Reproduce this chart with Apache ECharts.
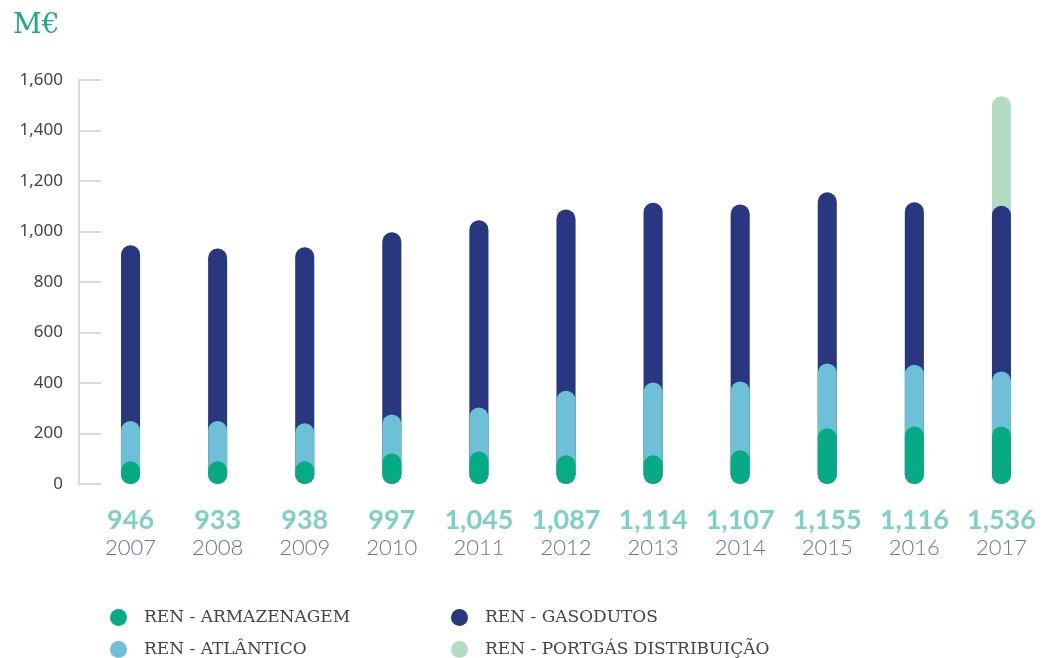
<!DOCTYPE html>
<html>
<head>
<meta charset="utf-8">
<script src="https://cdn.jsdelivr.net/npm/echarts@6/dist/echarts.min.js"></script>
<style>
  html, body { margin: 0; padding: 0; background: #fff; }
  #chart { width: 1058px; height: 658px; }
</style>
</head>
<body>
<div id="chart"></div>
<script>
// years and published totals (shown under the axis)
const years = ['2007', '2008', '2009', '2010', '2011', '2012', '2013', '2014', '2015', '2016', '2017'];
const totals = [946, 933, 938, 997, 1045, 1087, 1114, 1107, 1155, 1116, 1536];

// segment values per company (M€)
const armazenagem = [90, 90, 90, 121, 129, 114, 114, 134, 221, 228, 228];
const atlantico = [160, 160, 151, 154, 174, 255, 288, 272, 256, 244, 218];
const gasodutos = [696, 683, 697, 722, 742, 718, 712, 701, 678, 644, 656];
const portgas = [0, 0, 0, 0, 0, 0, 0, 0, 0, 0, 434];

const yTicks = [0, 200, 400, 600, 800, 1000, 1200, 1400, 1600];

const names = {
  arm: 'REN - ARMAZENAGEM',
  atl: 'REN - ATLÂNTICO',
  gas: 'REN - GASODUTOS',
  pg: 'REN - PORTGÁS DISTRIBUIÇÃO'
};
const colors = { arm: '#06aa85', atl: '#6ebfd8', gas: '#283780', pg: '#b3dcc3' };

// each pill runs from 0 to the running sum, pills overlap
function cumulate(...parts) {
  return years.map((_, i) => parts.reduce((s, p) => s + p[i], 0));
}
const cumArm = cumulate(armazenagem);
const cumAtl = cumulate(armazenagem, atlantico);
const cumGas = cumulate(armazenagem, atlantico, gasodutos);
const cumPg = cumulate(armazenagem, atlantico, gasodutos, portgas);

const chart = echarts.init(document.getElementById('chart'));

function pill(key, data) {
  return {
    name: names[key],
    type: 'bar',
    data: data,
    barWidth: 19,
    barGap: '-100%',
    itemStyle: { color: colors[key], borderRadius: 9.5 },
    emphasis: { disabled: true }
  };
}

// one legend per entry so the two columns line up
function legendItem(key, left, top) {
  return {
    left: left,
    top: top,
    icon: 'circle',
    itemWidth: 17,
    itemHeight: 17,
    selectedMode: false,
    data: [names[key]],
    textStyle: {
      fontFamily: 'DejaVu Serif, serif',
      fontSize: 17,
      color: '#444',
      padding: [0, 0, 0, 12]
    }
  };
}

const option = {
  animation: false,
  title: {
    text: 'M€',
    left: 8,
    top: 7,
    textStyle: { fontFamily: 'DejaVu Serif, serif', fontSize: 28, fontWeight: 'normal', color: '#1aa98a' }
  },
  legend: [
    legendItem('arm', 105, 604),
    legendItem('atl', 105, 636),
    legendItem('gas', 446, 604),
    legendItem('pg', 446, 636)
  ],
  grid: { left: 87, right: 13, top: 80, bottom: 174, containLabel: false },
  xAxis: {
    type: 'category',
    data: years,
    axisLine: { show: false },
    axisTick: { show: false },
    axisLabel: {
      margin: 22,
      formatter: (val, idx) => '{t|' + totals[idx].toLocaleString('en-US') + '}\n{y|' + val + '}',
      rich: {
        t: { fontFamily: 'Lato', fontWeight: 'bold', fontSize: 27, color: '#7dd0c3', lineHeight: 29, align: 'center' },
        y: { fontFamily: 'Lato', fontWeight: 300, fontSize: 22, color: '#6770b3', lineHeight: 26, align: 'center' }
      }
    }
  },
  yAxis: {
    type: 'value',
    min: yTicks[0],
    max: yTicks[yTicks.length - 1],
    interval: yTicks[1] - yTicks[0],
    offset: 8,
    axisLine: { show: true, lineStyle: { color: '#cfcfcf', width: 1.5 } },
    axisTick: { show: true, inside: true, length: 22, lineStyle: { color: '#cfcfcf', width: 1.5 } },
    splitLine: { show: false },
    axisLabel: {
      margin: 16,
      fontFamily: 'Noto Sans',
      fontSize: 17,
      color: '#444',
      formatter: (v) => v.toLocaleString('en-US')
    }
  },
  series: [
    pill('pg', cumPg),
    pill('gas', cumGas),
    pill('atl', cumAtl),
    pill('arm', cumArm)
  ]
};

chart.setOption(option);
</script>
</body>
</html>
